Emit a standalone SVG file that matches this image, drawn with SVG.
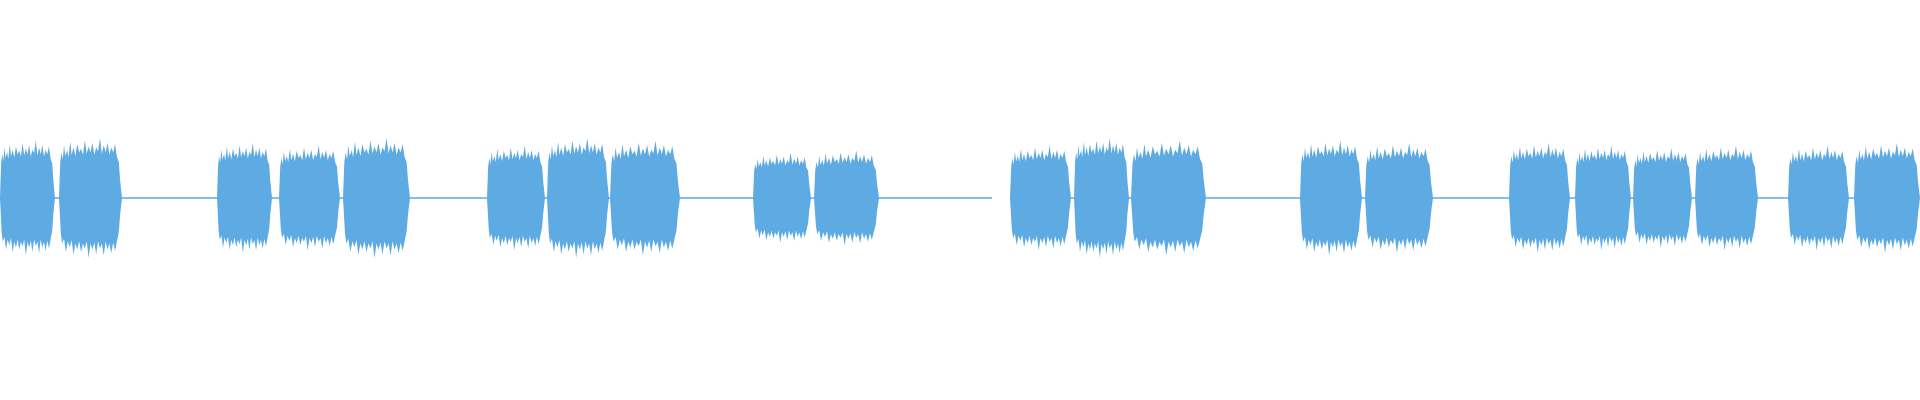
<svg xmlns="http://www.w3.org/2000/svg" width="1920" height="400" viewBox="0 0 1920 400">
<style>.w{fill:#5eabe3}.base{stroke:#5eabe3;stroke-width:1.5}</style>
<defs>
<path id="b" d="M0,0 L2,-30 L4,-38 L6,-32 L8,-44 L10,-35 L13,-40 L15,-34 L18,-47 L20,-36 L23,-42 L26,-35 L29,-45 L32,-38 L35,-41 L38,-36 L41,-48 L44,-37 L47,-43 L50,-38 L53,-46 L56,-36 L59,-42 L62,-39 L65,-50 L68,-37 L71,-44 L74,-38 L77,-46 L80,-36 L83,-42 L86,-38 L89,-45 L92,-34 L95,-30 L97,-15 L100,0 L97,14 L95,28 L92,36 L89,44 L86,37 L83,46 L80,38 L77,43 L74,36 L71,48 L68,38 L65,42 L62,36 L59,47 L56,37 L53,43 L50,38 L47,50 L44,36 L41,42 L38,38 L35,45 L32,36 L29,43 L26,38 L23,47 L20,35 L17,41 L14,36 L11,45 L8,34 L5,38 L3,30 Z"/>
</defs>
<g id="baseline"><line class="base" x1="0" y1="198" x2="992" y2="198"/><line class="base" x1="1010" y1="198" x2="1920" y2="198"/></g>
<g id="waveform" class="w">
<use href="#b" transform="translate(0,198) scale(0.55,1.15)"/>
<use href="#b" transform="translate(59,198) scale(0.63,1.2)"/>
<use href="#b" transform="translate(217,198) scale(0.55,1.1)"/>
<use href="#b" transform="translate(279,198) scale(0.61,1.05)"/>
<use href="#b" transform="translate(343,198) scale(0.67,1.2)"/>
<use href="#b" transform="translate(487,198) scale(0.58,1.05)"/>
<use href="#b" transform="translate(547,198) scale(0.62,1.2)"/>
<use href="#b" transform="translate(610,198) scale(0.70,1.15)"/>
<use href="#b" transform="translate(753,198) scale(0.58,0.9)"/>
<use href="#b" transform="translate(814,198) scale(0.65,0.95)"/>
<use href="#b" transform="translate(1010,198) scale(0.61,1.05)"/>
<use href="#b" transform="translate(1074,198) scale(0.55,1.2)"/>
<use href="#b" transform="translate(1131,198) scale(0.75,1.15)"/>
<use href="#b" transform="translate(1300,198) scale(0.62,1.15)"/>
<use href="#b" transform="translate(1365,198) scale(0.68,1.1)"/>
<use href="#b" transform="translate(1509,198) scale(0.61,1.1)"/>
<use href="#b" transform="translate(1575,198) scale(0.56,1.05)"/>
<use href="#b" transform="translate(1633,198) scale(0.59,1.0)"/>
<use href="#b" transform="translate(1695,198) scale(0.63,1.05)"/>
<use href="#b" transform="translate(1788,198) scale(0.61,1.05)"/>
<use href="#b" transform="translate(1854,198) scale(0.66,1.1)"/>
</g>
</svg>
